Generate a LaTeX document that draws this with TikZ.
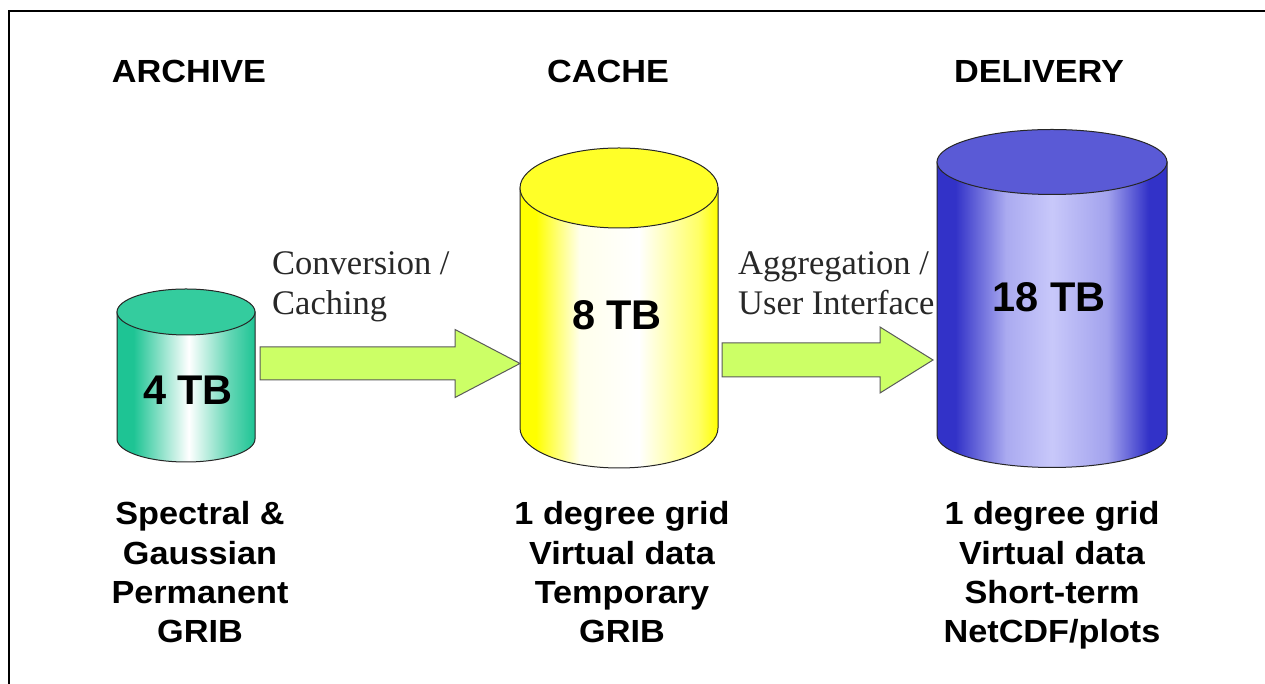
\documentclass[tikz,border=0pt]{standalone}
\usepackage{fontspec}
\usetikzlibrary{calc}
\newfontfamily\headsans[FakeStretch=1.07]{Liberation Sans Bold}
\newfontfamily\cylsans{Liberation Sans Bold}
\newfontfamily\notesserif{Liberation Serif}

\definecolor{tealedge}{RGB}{30,196,148}
\definecolor{tealtop}{RGB}{52,204,158}
\definecolor{yellowedge}{RGB}{255,255,0}
\definecolor{yellowtop}{RGB}{255,255,40}
\definecolor{yellowmid}{RGB}{255,255,235}
\definecolor{blueedge}{RGB}{50,50,200}
\definecolor{bluetop}{RGB}{90,90,214}
\definecolor{bluemid}{RGB}{200,200,250}
\definecolor{arrowfill}{RGB}{204,255,102}
\definecolor{arrowline}{RGB}{90,90,90}
\definecolor{notegray}{RGB}{40,40,40}

% left-to-right body shadings (useful part between 25bp and 75bp)
\pgfdeclarehorizontalshading{tealbody}{100bp}{color(0bp)=(tealedge); color(25bp)=(tealedge);
  color(31bp)=(tealedge); color(51bp)=(white); color(66bp)=(tealedge!70!white);
  color(75bp)=(tealedge); color(100bp)=(tealedge)}
\pgfdeclarehorizontalshading{yellowbody}{100bp}{color(0bp)=(yellowedge); color(25bp)=(yellowedge);
  color(29bp)=(yellowedge); color(40bp)=(yellowmid); color(55bp)=(white);
  color(70bp)=(yellowedge!60!white); color(75bp)=(yellowedge); color(100bp)=(yellowedge)}
\pgfdeclarehorizontalshading{bluebody}{100bp}{color(0bp)=(blueedge); color(25bp)=(blueedge);
  color(29bp)=(blueedge); color(40bp)=(bluemid!80!blueedge); color(50bp)=(bluemid);
  color(62bp)=(bluemid!75!blueedge); color(71bp)=(blueedge); color(75bp)=(blueedge);
  color(100bp)=(blueedge)}

% cylinder: #1 left x, #2 right x, #3 top centre y, #4 bottom centre y, #5 y radius,
% #6 body shading, #7 top colour
\newcommand\drumshape[7]{%
  \path[cylline, shading=#6]
    (#1,#3) -- (#1,#4)
    arc[start angle=180, end angle=360, x radius={(#2-#1)/2}, y radius=#5]
    -- (#2,#3) -- cycle;
  \path[cylline, fill=#7] ({(#1+#2)/2},#3) ellipse[x radius={(#2-#1)/2}, y radius=#5];
}
% block arrow: #1 start, #2 tip, #3 half shaft, #4 half head, #5 head length
\newcommand\blockarrow[5]{%
  \path[blockarrowstyle] let \p1=(#1), \p2=(#2) in
    (\x1,\y1+#3) -- (\x2-#5,\y1+#3) -- (\x2-#5,\y1+#4) -- (\x2,\y2)
    -- (\x2-#5,\y1-#4) -- (\x2-#5,\y1-#3) -- (\x1,\y1-#3) -- cycle;
}

\begin{document}
\begin{tikzpicture}[x=1pt, y=1pt,
  cylline/.style={draw=black!85, line width=1pt},
  blockarrowstyle/.style={fill=arrowfill, draw=arrowline, line width=1pt},
  heading/.style={anchor=base, inner sep=0pt, font=\headsans\fontsize{32}{32}\selectfont},
  capacity/.style={anchor=base, inner sep=0pt, font=\cylsans\fontsize{41.5}{41.5}\selectfont},
  stepnote/.style={anchor=base west, inner sep=0pt, text=notegray,
    font=\notesserif\fontsize{34.5}{34.5}\selectfont},
  detail/.style={anchor=base, inner sep=0pt, font=\headsans\fontsize{32}{32}\selectfont}]

\useasboundingbox (0,0) rectangle (1265,684);
\fill[white] (0,0) rectangle (1265,684);

% frame
\draw[line width=2pt, black] (9,-5) -- (9,673) -- (1275,673);

% column headings
\node[heading] (hArchive) at (189,601) {ARCHIVE};
\node[heading] (hCache) at (608,601) {CACHE};
\node[heading] (hDelivery) at (1039,601) {DELIVERY};

% storage drums
\drumshape{117}{255}{372}{245}{23}{tealbody}{tealtop}
\drumshape{520}{718}{496}{256}{40}{yellowbody}{yellowtop}
\drumshape{937}{1167}{522}{249}{32.5}{bluebody}{bluetop}

\node[capacity] (cArchive) at (188,279) {4 TB};
\node[capacity] (cCache) at (617,354) {8 TB};
\node[capacity] (cDelivery) at (1049,372) {18 TB};

% arrow end points at the drum sides
\coordinate (archiveOut) at (260,320.5);
\coordinate (cacheIn) at (520,320.5);
\coordinate (cacheOut) at (722,324);
\coordinate (deliveryIn) at (933,324);

\blockarrow{archiveOut}{cacheIn}{16.5pt}{34pt}{65pt}
\blockarrow{cacheOut}{deliveryIn}{17pt}{33pt}{53pt}

% step labels
\node[stepnote] (n1a) at (272,409) {Conversion /};
\node[stepnote] (n1b) at (272,369) {Caching};
\node[stepnote] (n2a) at (738,409) {Aggregation /};
\node[stepnote] (n2b) at (738,369) {User Interface};

% data descriptions
\foreach \txt [count=\i] in {Spectral \&, Gaussian, Permanent, GRIB}
  \node[detail] (dA\i) at (200,{159-39.2*(\i-1)}) {\txt};
\foreach \txt [count=\i] in {1 degree grid, Virtual data, Temporary, GRIB}
  \node[detail] (dC\i) at (622,{159-39.2*(\i-1)}) {\txt};
\foreach \txt [count=\i] in {1 degree grid, Virtual data, Short-term, NetCDF/plots}
  \node[detail] (dD\i) at (1052,{159-39.2*(\i-1)}) {\txt};
\end{tikzpicture}
\end{document}
